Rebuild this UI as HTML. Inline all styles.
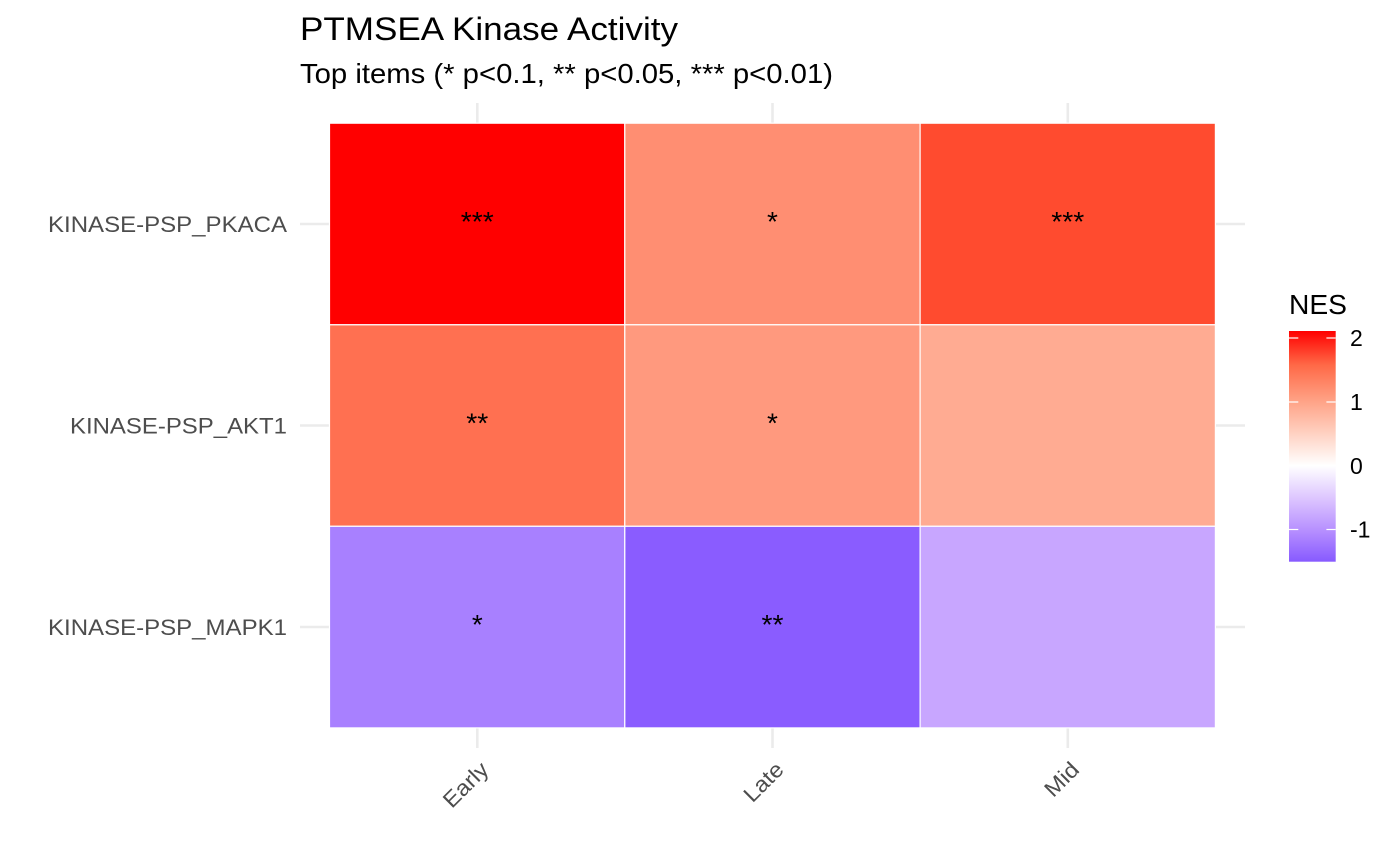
<!DOCTYPE html>
<html>
<head>
<meta charset="utf-8">
<style>
  html, body { margin: 0; padding: 0; background: #ffffff; }
  svg { display: block; }
  text { font-family: "Liberation Sans", Arial, sans-serif; }
</style>
</head>
<body>
<svg width="1400" height="866" viewBox="0 0 1400 866" xmlns="http://www.w3.org/2000/svg">
  <defs>
    <linearGradient id="nes" x1="0" y1="0" x2="0" y2="1">
      <stop offset="0" stop-color="#FF0000"/>
      <stop offset="0.1459" stop-color="#FF6846"/>
      <stop offset="0.2917" stop-color="#FF9E81"/>
      <stop offset="0.4376" stop-color="#FFCFBF"/>
      <stop offset="0.5835" stop-color="#FFFFFF"/>
      <stop offset="0.7294" stop-color="#DCC4FF"/>
      <stop offset="0.8753" stop-color="#B38BFF"/>
      <stop offset="1" stop-color="#875AFF"/>
    </linearGradient>
  </defs>
  <rect x="0" y="0" width="1400" height="866" fill="#ffffff"/>

  <!-- Title & subtitle -->
  <text x="300" y="40" font-size="32" fill="#000000" textLength="378" lengthAdjust="spacingAndGlyphs">PTMSEA Kinase Activity</text>
  <text x="300" y="83" font-size="28" fill="#000000" textLength="533" lengthAdjust="spacingAndGlyphs">Top items (* p&lt;0.1, ** p&lt;0.05, *** p&lt;0.01)</text>

  <!-- Grid lines -->
  <g stroke="#EBEBEB" stroke-width="2.6">
    <line x1="477.3" y1="103" x2="477.3" y2="748"/>
    <line x1="772.5" y1="103" x2="772.5" y2="748"/>
    <line x1="1067.8" y1="103" x2="1067.8" y2="748"/>
    <line x1="300" y1="224" x2="1245" y2="224"/>
    <line x1="300" y1="425.5" x2="1245" y2="425.5"/>
    <line x1="300" y1="627" x2="1245" y2="627"/>
  </g>

  <!-- Tiles -->
  <g stroke="#ffffff" stroke-width="1.2">
    <rect x="329.5" y="123.2" width="295.3" height="201.6" fill="#FF0000"/>
    <rect x="624.8" y="123.2" width="295.3" height="201.6" fill="#FF8E72"/>
    <rect x="920.1" y="123.2" width="295.3" height="201.6" fill="#FF4B2F"/>
    <rect x="329.5" y="324.8" width="295.3" height="201.5" fill="#FF7051"/>
    <rect x="624.8" y="324.8" width="295.3" height="201.5" fill="#FF997E"/>
    <rect x="920.1" y="324.8" width="295.3" height="201.5" fill="#FFAB92"/>
    <rect x="329.5" y="526.3" width="295.3" height="201.6" fill="#A880FF"/>
    <rect x="624.8" y="526.3" width="295.3" height="201.6" fill="#8A5CFF"/>
    <rect x="920.1" y="526.3" width="295.3" height="201.6" fill="#C8A6FF"/>
  </g>

  <!-- Significance stars -->
  <g font-size="28" fill="#000000" text-anchor="middle">
    <text x="477.3" y="231" textLength="33" lengthAdjust="spacingAndGlyphs">***</text>
    <text x="772.5" y="231">*</text>
    <text x="1067.8" y="231" textLength="33" lengthAdjust="spacingAndGlyphs">***</text>
    <text x="477.3" y="432.5" textLength="22" lengthAdjust="spacingAndGlyphs">**</text>
    <text x="772.5" y="432.5">*</text>
    <text x="477.3" y="634">*</text>
    <text x="772.5" y="634" textLength="22" lengthAdjust="spacingAndGlyphs">**</text>
  </g>

  <!-- Y axis labels -->
  <g font-size="22" fill="#4D4D4D" text-anchor="end">
    <text x="287" y="232" textLength="239" lengthAdjust="spacingAndGlyphs">KINASE-PSP_PKACA</text>
    <text x="287" y="433.5" textLength="217" lengthAdjust="spacingAndGlyphs">KINASE-PSP_AKT1</text>
    <text x="287" y="635" textLength="239" lengthAdjust="spacingAndGlyphs">KINASE-PSP_MAPK1</text>
  </g>

  <!-- X axis labels (rotated 45) -->
  <g font-size="22" fill="#4D4D4D" text-anchor="end">
    <text transform="translate(490,771) rotate(-45)" textLength="54" lengthAdjust="spacingAndGlyphs">Early</text>
    <text transform="translate(785,771) rotate(-45)" textLength="46" lengthAdjust="spacingAndGlyphs">Late</text>
    <text transform="translate(1080.5,771) rotate(-45)" textLength="38.5" lengthAdjust="spacingAndGlyphs">Mid</text>
  </g>

  <!-- Legend -->
  <text x="1289" y="314" font-size="28" fill="#000000" textLength="58" lengthAdjust="spacingAndGlyphs">NES</text>
  <rect x="1289" y="331" width="46.7" height="230.7" fill="url(#nes)"/>
  <g stroke="#ffffff" stroke-width="1.2">
    <line x1="1289" y1="338" x2="1298.3" y2="338"/>
    <line x1="1326.4" y1="338" x2="1335.7" y2="338"/>
    <line x1="1289" y1="402" x2="1298.3" y2="402"/>
    <line x1="1326.4" y1="402" x2="1335.7" y2="402"/>
    <line x1="1289" y1="466" x2="1298.3" y2="466"/>
    <line x1="1326.4" y1="466" x2="1335.7" y2="466"/>
    <line x1="1289" y1="529.5" x2="1298.3" y2="529.5"/>
    <line x1="1326.4" y1="529.5" x2="1335.7" y2="529.5"/>
  </g>
  <g font-size="23" fill="#000000">
    <text x="1350" y="346">2</text>
    <text x="1350" y="410">1</text>
    <text x="1350" y="474">0</text>
    <text x="1350" y="537.5">-1</text>
  </g>
</svg>
</body>
</html>
